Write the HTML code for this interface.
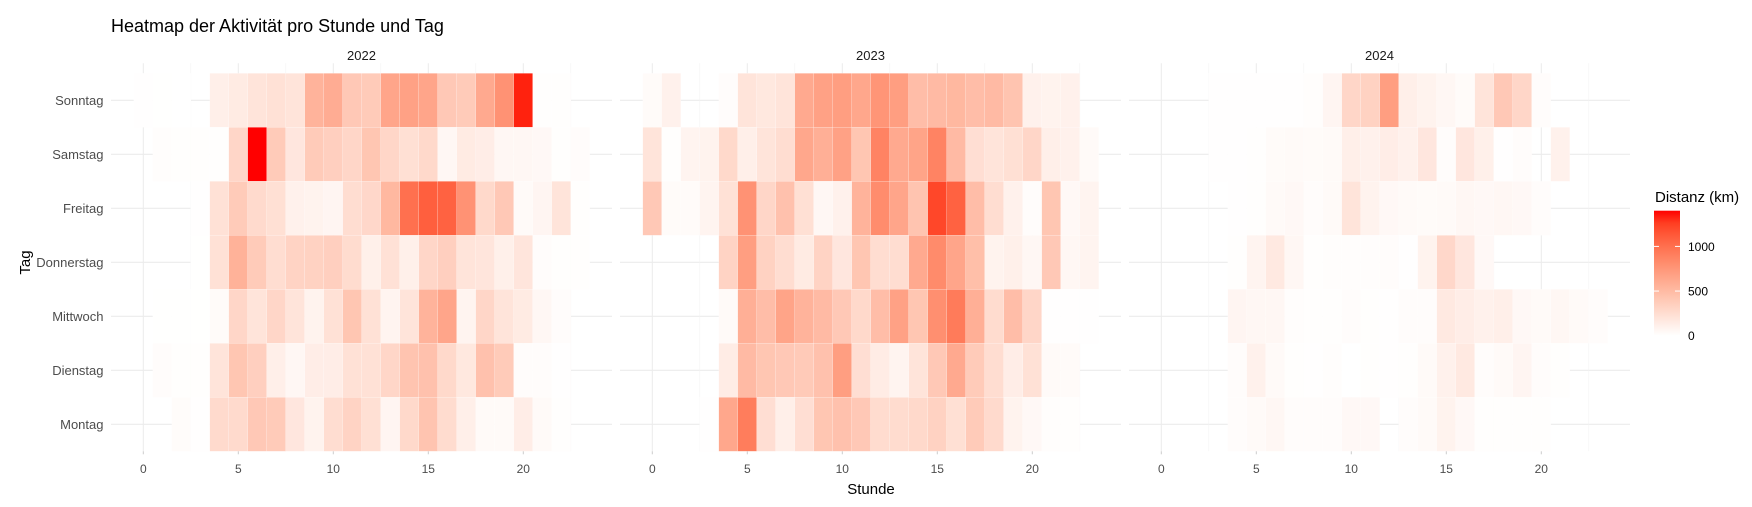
<!DOCTYPE html>
<html><head><meta charset="utf-8">
<style>
html,body{margin:0;padding:0;background:#fff;}
svg{display:block;font-family:"Liberation Sans",Arial,sans-serif;}
</style></head>
<body>
<svg id="chart" width="1752" height="507" viewBox="0 0 1752 507" xmlns="http://www.w3.org/2000/svg">
<rect x="0" y="0" width="1752" height="507" fill="#fff"/>
<text x="111" y="32" font-size="18" fill="#000">Heatmap der Aktivität pro Stunde und Tag</text>
<g id="grid"></g>
<g id="tiles"></g>
<g id="axes"></g>
<text x="871" y="494" font-size="15" text-anchor="middle" fill="#000">Stunde</text>
<text transform="translate(30,262.5) rotate(-90)" font-size="15" text-anchor="middle" fill="#000">Tag</text>
<g id="legend">
<text x="1655" y="202" font-size="15" fill="#000">Distanz (km)</text>
<defs><linearGradient id="lg" x1="0" y1="1" x2="0" y2="0"></linearGradient></defs>
<rect x="1654" y="210.7" width="26" height="125" fill="url(#lg)"/>
</g>
</svg>
<script>
const years = ["2022","2023","2024"];
const days = ["Sonntag","Samstag","Freitag","Donnerstag","Mittwoch","Dienstag","Montag"];
const xTicks = [0,5,10,15,20];
const legendTicks = [0,500,1000];
const maxValue = 1400;
const data2022 = [
[5,3,2,null,120,150,200,220,200,550,600,400,380,650,680,650,400,380,620,780,1350,10,10,null],
[null,15,10,10,10,300,1400,380,180,380,350,300,420,300,230,280,60,150,130,60,60,50,10,20],
[null,null,null,5,220,380,270,230,100,90,70,250,290,520,1000,1100,1080,780,280,400,40,70,200,10],
[null,null,null,3,220,560,380,250,320,330,350,260,110,220,110,300,350,200,190,110,190,20,10,10],
[null,3,3,3,30,300,200,300,200,90,220,420,220,80,200,550,650,80,300,200,150,60,20,null],
[null,20,10,10,200,420,350,120,60,130,130,220,220,300,430,450,280,170,450,380,20,20,5,null],
[null,null,25,5,270,270,400,380,180,90,250,320,230,70,280,430,260,120,40,40,130,40,10,null]
];
const data2023 = [
[30,100,null,null,20,200,170,200,620,680,700,640,760,700,480,500,520,480,500,430,100,90,100,null],
[200,10,80,90,280,120,200,250,640,580,680,420,880,620,660,880,500,240,200,230,300,120,100,40],
[400,30,30,80,220,780,300,450,230,60,100,550,820,650,430,1220,1080,480,250,100,20,420,50,80],
[null,null,null,null,320,700,330,250,150,320,180,420,250,250,620,830,650,470,90,110,60,400,60,80],
[null,null,null,null,40,580,480,660,550,500,400,280,480,680,420,800,930,580,260,480,300,5,5,5],
[null,null,null,null,140,500,420,400,390,450,700,240,140,80,200,400,620,380,250,130,220,40,30,null],
[null,null,null,5,640,920,240,120,240,420,450,400,260,260,280,330,230,380,270,90,50,15,10,null]
];
const data2024 = [
[null,null,null,5,5,5,5,5,15,70,300,330,700,120,90,60,30,200,400,300,20,null,null,null],
[null,null,null,5,5,10,30,40,30,40,120,100,130,100,180,20,180,110,5,20,null,100,null,null],
[null,null,null,null,5,10,40,50,20,40,200,90,50,40,30,40,60,50,60,50,20,null,null,null],
[null,null,null,null,10,80,160,60,10,15,15,15,20,5,90,290,180,50,null,null,null,null,null,null],
[null,null,null,null,70,60,60,15,10,10,20,10,5,20,20,160,130,100,120,50,40,60,40,20],
[null,null,null,null,20,100,40,10,5,15,0,10,5,10,40,100,160,20,40,70,20,10,null,null],
[null,null,null,null,20,40,60,20,20,20,50,50,null,20,40,90,50,10,10,10,10,null,null,null]
];
const allData = [data2022, data2023, data2024];

// layout
const panelLeft = [111, 620, 1129];
const panelWidth = 501;
const hour0 = [143.3, 652.3, 1161.3];
const pxPerHour = 19;
const rowTop = 73.3, rowH = 54, plotBottom = rowTop + 7*rowH;
function xScale(p, h){ return hour0[p] + h*pxPerHour; }
function yScale(i){ return rowTop + i*rowH; }

// colour: Lab interpolation white -> red
function srgb2lin(c){c/=255;return c<=0.04045?c/12.92:Math.pow((c+0.055)/1.055,2.4);}
function lin2srgb(c){c=c<=0.0031308?12.92*c:1.055*Math.pow(c,1/2.4)-0.055;return Math.max(0,Math.min(255,Math.round(c*255)));}
function toLab(r,g,b){r=srgb2lin(r);g=srgb2lin(g);b=srgb2lin(b);
 let X=(0.4124*r+0.3576*g+0.1805*b)/0.95047,Y=0.2126*r+0.7152*g+0.0722*b,Z=(0.0193*r+0.1192*g+0.9505*b)/1.08883;
 const f=t=>t>0.008856?Math.cbrt(t):7.787*t+16/116;
 return [116*f(Y)-16,500*(f(X)-f(Y)),200*(f(Y)-f(Z))];}
function fromLab(L,a,b){const fy=(L+16)/116,fx=fy+a/500,fz=fy-b/200;
 const fi=t=>t*t*t>0.008856?t*t*t:(t-16/116)/7.787;
 const X=fi(fx)*0.95047,Y=fi(fy),Z=fi(fz)*1.08883;
 const r=3.2406*X-1.5372*Y-0.4986*Z,g=-0.9689*X+1.8758*Y+0.0415*Z,bb=0.0557*X-0.2040*Y+1.0570*Z;
 return "rgb("+lin2srgb(r)+","+lin2srgb(g)+","+lin2srgb(bb)+")";}
const labW = toLab(255,255,255), labR = toLab(255,0,0);
function colorScale(v){const t=Math.max(0,Math.min(1,v/maxValue));
 return fromLab(labW[0]+(labR[0]-labW[0])*t,labW[1]+(labR[1]-labW[1])*t,labW[2]+(labR[2]-labW[2])*t);}

const NS="http://www.w3.org/2000/svg";
function mk(tag, attrs, parent){const e=document.createElementNS(NS,tag);for(const k in attrs)e.setAttribute(k,attrs[k]);parent.appendChild(e);return e;}
const grid=document.getElementById('grid'), tiles=document.getElementById('tiles'), axes=document.getElementById('axes');

for(let p=0;p<3;p++){
  // horizontal gridlines
  for(let i=0;i<7;i++){
    const y=yScale(i)+rowH/2;
    const l=mk('line',{x1:panelLeft[p],x2:panelLeft[p]+panelWidth,y1:y,y2:y,stroke:'#ebebeb','stroke-width':1.2},grid);
    
    
  }
  // vertical gridlines
  for(let h=0;h<=22.5;h+=2.5){
    const x=xScale(p,h);
    const l=mk('line',{x1:x,x2:x,y1:rowTop-10,y2:plotBottom,stroke:(h%5===0)?'#ebebeb':'#f3f3f3','stroke-width':(h%5===0)?1:0.6},grid);
    
    
  }
  // tiles
  const d=allData[p];
  for(let i=0;i<7;i++){
    for(let h=0;h<24;h++){
      const v=d[i][h];
      if(v===null) continue;
      const r=mk('rect',{x:xScale(p,h-0.5),y:yScale(i),width:pxPerHour,height:rowH,fill:colorScale(v),stroke:'#fff','stroke-width':0.3,'stroke-opacity':0.6},tiles);
      
      
    }
  }
  // strip label
  const s=mk('text',{x:panelLeft[p]+panelWidth/2,y:60,'font-size':13,'text-anchor':'middle',fill:'#1a1a1a'},axes);
  s.textContent=years[p];
  
  
  // x ticks
  for(const t of xTicks){
    const x=xScale(p,t);
    const tk=mk('line',{x1:x,x2:x,y1:plotBottom,y2:plotBottom+3,stroke:'#cccccc','stroke-width':1},axes);
    
    
    const tl=mk('text',{x:x,y:473,'font-size':12,'text-anchor':'middle',fill:'#4d4d4d'},axes);
    tl.textContent=t;
    
    
  }
}
// y labels
for(let i=0;i<7;i++){
  const t=mk('text',{x:103.5,y:yScale(i)+rowH/2+4.5,'font-size':13,'text-anchor':'end',fill:'#4d4d4d'},axes);
  t.textContent=days[i];
  
  
}
// legend
const lg=document.getElementById('lg');
for(let k=0;k<=10;k++){mk('stop',{offset:(k*10)+'%','stop-color':colorScale(maxValue*k/10)},lg);}
const legend=document.getElementById('legend');
const barTop=210.7, barBot=335.7;
function legendY(v){return barBot-(barBot-barTop)*v/maxValue;}
for(const v of legendTicks){
  const y=legendY(v);
  const a=mk('line',{x1:1654,x2:1659,y1:y,y2:y,stroke:'#fff','stroke-width':1},legend);
  
  
  const b=mk('line',{x1:1675,x2:1680,y1:y,y2:y,stroke:'#fff','stroke-width':1},legend);
  
  
  const t=mk('text',{x:1688,y:y+4.5,'font-size':12,fill:'#000'},legend);
  t.textContent=v;
  
  
}
</script>
</body></html>
